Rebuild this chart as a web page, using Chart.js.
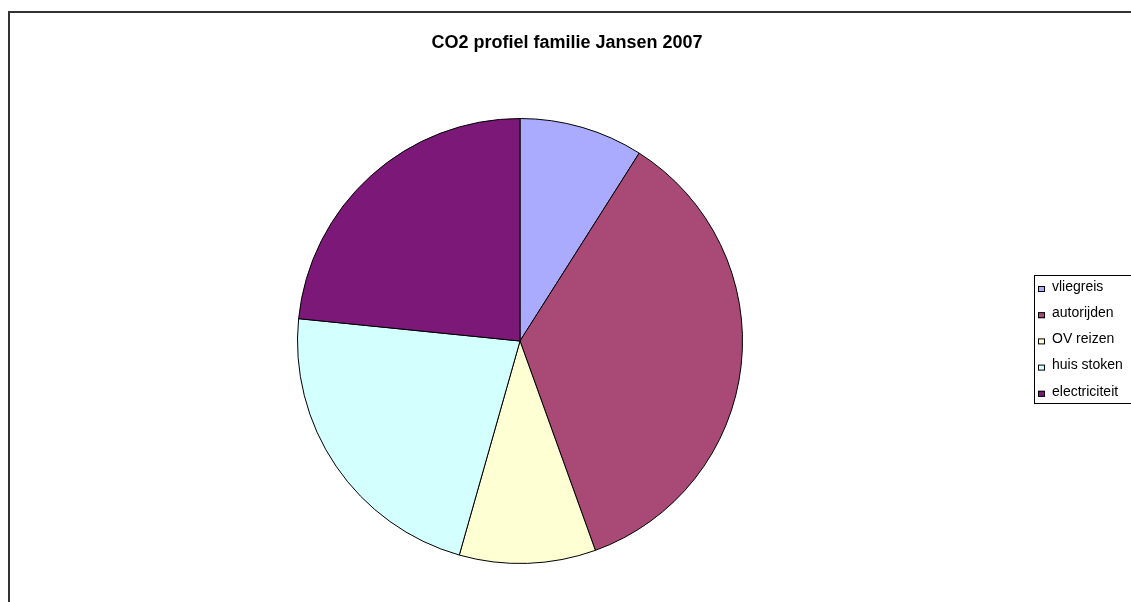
<!DOCTYPE html>
<html>
<head>
<meta charset="utf-8">
<script src="https://cdn.jsdelivr.net/npm/chart.js@4/dist/chart.umd.min.js"></script>
<style>
  html, body { margin: 0; padding: 0; background: #fff; }
  #c { display: block; }
</style>
</head>
<body>
<canvas id="c" width="1131" height="602"></canvas>
<script>
const chartTitle = "CO2 profiel familie Jansen 2007";
const categories = ["vliegreis", "autorijden", "OV reizen", "huis stoken", "electriciteit"];
const values = [9.0, 35.5, 9.9, 22.2, 23.4];
const colors = ["#AAABFE", "#A94A76", "#FFFFD4", "#D4FFFF", "#7B1878"];

const framePlugin = {
  id: "frame",
  beforeDraw(chart) {
    const ctx = chart.ctx;
    ctx.save();
    ctx.fillStyle = "#fff";
    ctx.fillRect(0, 0, chart.width, chart.height);
    ctx.strokeStyle = "#333";
    ctx.lineWidth = 2;
    ctx.beginPath();
    ctx.moveTo(9, chart.height + 5);
    ctx.lineTo(9, 12);
    ctx.lineTo(chart.width + 5, 12);
    ctx.stroke();
    ctx.restore();
  },
  afterDraw(chart) {
    const ctx = chart.ctx;
    ctx.save();
    // title
    ctx.fillStyle = "#000";
    ctx.font = "bold 18px 'Liberation Sans', Arial, sans-serif";
    ctx.textAlign = "center";
    ctx.textBaseline = "alphabetic";
    ctx.fillText(chartTitle, 567, 48);
    // legend
    ctx.strokeStyle = "#000";
    ctx.lineWidth = 1;
    ctx.strokeRect(1034.5, 275.5, 120, 128);
    ctx.font = "14px 'Liberation Sans', Arial, sans-serif";
    ctx.textAlign = "left";
    ctx.textBaseline = "middle";
    const ds = chart.data.datasets[0];
    chart.data.labels.forEach((lab, i) => {
      const yc = 287 + i * 26.2;
      ctx.fillStyle = ds.backgroundColor[i];
      ctx.fillRect(1038, yc - 1, 7, 6);
      ctx.strokeStyle = "#000";
      ctx.strokeRect(1038.5, yc - 0.5, 6, 5);
      ctx.fillStyle = "#000";
      ctx.fillText(lab, 1052, yc);
    });
    ctx.restore();
  }
};

new Chart(document.getElementById("c"), {
  type: "pie",
  data: {
    labels: categories,
    datasets: [{
      data: values,
      backgroundColor: colors,
      borderColor: "#000",
      borderWidth: 1,
      hoverOffset: 0
    }]
  },
  options: {
    responsive: false,
    animation: false,
    events: [],
    layout: { padding: { left: 297, right: 388, top: 118, bottom: 38 } },
    plugins: {
      legend: { display: false },
      title: { display: false },
      tooltip: { enabled: false }
    }
  },
  plugins: [framePlugin]
});
</script>
</body>
</html>
